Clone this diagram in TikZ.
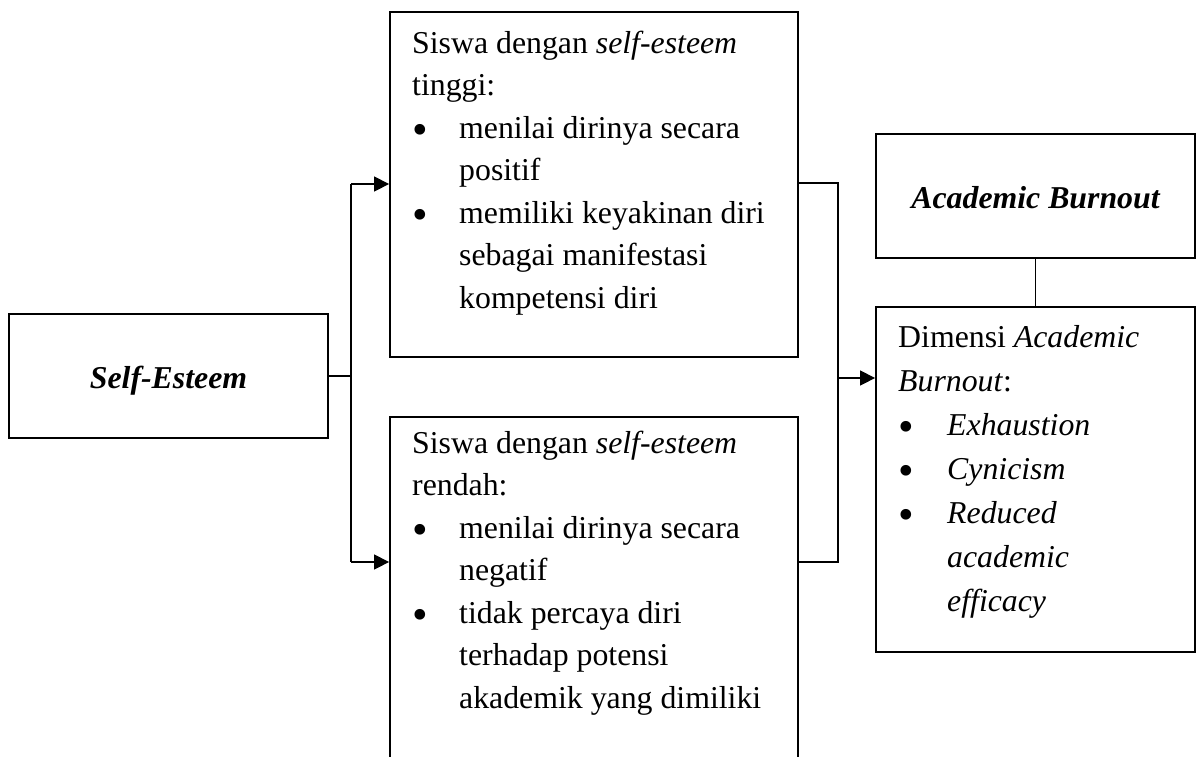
\documentclass[tikz,border=0pt]{standalone}
\usepackage{fontspec}
\usepackage{graphicx}
\setmainfont{Liberation Serif}
\usetikzlibrary{arrows.meta}
\newcommand\bulitem[1]{\makebox[#1][l]{\hspace{0.5pt}\smash{\raisebox{-0.19em}{\scalebox{1.4}{\textbullet}}}}}
\begin{document}
\begin{tikzpicture}[x=1pt,y=-1pt,
  box/.style={draw,line width=1.8pt,inner sep=0pt},
  conn/.style={line width=1.3pt},
  arr/.style={conn,-{Triangle[length=15pt,width=15pt]}},
  txt/.style={inner sep=0pt,anchor=base west},
  every node/.style={font=\fontsize{31.8}{42.5}\selectfont}]
\useasboundingbox (0,0) rectangle (1198,756);
\clip (0,0) rectangle (1198,756);
% boxes
\node[box,minimum width=319pt,minimum height=124pt] (se) at (168.5,376) {};
\node[box,minimum width=408pt,minimum height=345pt] (T) at (594,184.5) {};
\node[box,minimum width=408pt,minimum height=358pt] (B) at (594,596) {};
\node[box,minimum width=319pt,minimum height=124pt] (AB) at (1035.5,196) {};
\node[box,minimum width=319pt,minimum height=345pt] (D) at (1035.5,479.5) {};
% texts
\node[inner sep=0pt,anchor=base,font=\fontsize{31.8}{38}\selectfont\bfseries\itshape] (setxt) at (168.5,388) {Self-Esteem};
\node[inner sep=0pt,anchor=base,font=\fontsize{31.8}{38}\selectfont\bfseries\itshape] (abtxt) at (1035.5,208) {Academic Burnout};
\node[txt] (ttxt) at (412,53) {\begin{tabular}[t]{@{}l@{}}
Siswa dengan \textit{self-esteem}\\
tinggi:\\
\bulitem{47pt}menilai dirinya secara\\
\hspace*{47pt}positif\\
\bulitem{47pt}memiliki keyakinan diri\\
\hspace*{47pt}sebagai manifestasi\\
\hspace*{47pt}kompetensi diri
\end{tabular}};
\node[txt] (btxt) at (412,453) {\begin{tabular}[t]{@{}l@{}}
Siswa dengan \textit{self-esteem}\\
rendah:\\
\bulitem{47pt}menilai dirinya secara\\
\hspace*{47pt}negatif\\
\bulitem{47pt}tidak percaya diri\\
\hspace*{47pt}terhadap potensi\\
\hspace*{47pt}akademik yang dimiliki
\end{tabular}};
\node[txt,font=\fontsize{31.8}{44}\selectfont] (dtxt) at (898,347) {\begin{tabular}[t]{@{}l@{}}
Dimensi \textit{Academic}\\
\textit{Burnout}:\\
\bulitem{49pt}\textit{Exhaustion}\\
\bulitem{49pt}\textit{Cynicism}\\
\bulitem{49pt}\textit{Reduced}\\
\hspace*{49pt}\textit{academic}\\
\hspace*{49pt}\textit{efficacy}
\end{tabular}};
% connectors
\coordinate (bt) at (351,184);
\coordinate (bb) at (351,562);
\coordinate (rt) at (838,183);
\coordinate (rb) at (838,562);
\coordinate (ra) at (838,378);
\draw[conn] (se.east) -- (se.east -| bt);
\draw[conn] (bt) -- (bb);
\draw[arr] (bt) -- (bt -| T.west);
\draw[arr] (bb) -- (bb -| B.west);
\draw[conn] (rt -| T.east) -- (rt) -- (rb) -- (rb -| B.east);
\draw[arr] (ra) -- (ra -| D.west);
\draw[conn] (AB.south) -- (D.north);
\end{tikzpicture}
\end{document}
